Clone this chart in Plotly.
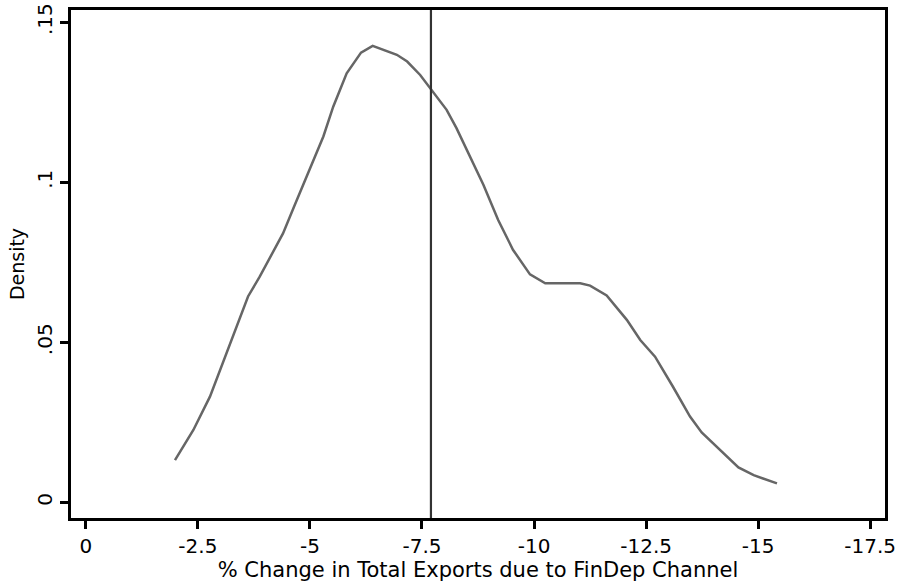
import plotly.graph_objects as go

# Kernel density curve
pct_change = [-1.99, -2.4, -2.77, -3.14, -3.62, -3.88, -4.4, -4.65, -4.93, -5.3, -5.52,
              -5.82, -6.14, -6.4, -6.94, -7.17, -7.46, -7.72, -8.05, -8.27, -8.87, -9.2,
              -9.53, -9.91, -10.25, -11.03, -11.25, -11.62, -12.07, -12.37, -12.7, -13.1,
              -13.48, -13.74, -14.08, -14.56, -14.9, -15.42]
density = [0.0132, 0.0226, 0.033, 0.0466, 0.0643, 0.0705, 0.084, 0.0925, 0.1018, 0.1143, 0.1236,
           0.134, 0.1405, 0.1426, 0.1398, 0.1377, 0.1335, 0.1288, 0.1226, 0.1169, 0.0992, 0.0882,
           0.0789, 0.0712, 0.0684, 0.0684, 0.0677, 0.0646, 0.057, 0.0507, 0.0455, 0.0361,
           0.0268, 0.0218, 0.0174, 0.0109, 0.0085, 0.0059]
mean_line = -7.7

x_tickvals = [0, -2.5, -5, -7.5, -10, -12.5, -15, -17.5]
x_ticktext = ["0", "-2.5", "-5", "-7.5", "-10", "-12.5", "-15", "-17.5"]
y_tickvals = [0, 0.05, 0.1, 0.15]
y_ticktext = ["0", ".05", ".1", ".15"]

FONT = "DejaVu Sans"

fig = go.Figure()
fig.add_trace(go.Scatter(x=pct_change, y=density, mode="lines",
                         line=dict(color="#666666", width=2.5), showlegend=False))
fig.add_trace(go.Scatter(x=[mean_line, mean_line], y=[-0.0049, 0.1538], mode="lines",
                         line=dict(color="#333333", width=2.2), showlegend=False))

fig.update_layout(
    width=905, height=582,
    margin=dict(l=71, r=20, t=10, b=64),
    paper_bgcolor="white", plot_bgcolor="white",
    font=dict(family=FONT, size=19, color="black"),
)
fig.update_xaxes(range=[0.33, -17.83], tickvals=x_tickvals, ticktext=x_ticktext,
                 showgrid=False, zeroline=False, showline=True, mirror=True,
                 linecolor="black", linewidth=3, ticks="outside", ticklen=8, tickwidth=3,
                 tickcolor="black", tickfont=dict(size=20), automargin=False,
                 title=dict(text="% Change in Total Exports due to FinDep Channel",
                            font=dict(size=21), standoff=0))
fig.update_yaxes(range=[-0.0049, 0.1538], tickvals=y_tickvals, ticktext=y_ticktext,
                 showgrid=False, zeroline=False, showline=True, mirror=True,
                 linecolor="black", linewidth=3, ticks="outside", ticklen=8, tickwidth=3,
                 tickcolor="black", tickangle=-90, tickfont=dict(size=20), automargin=False,
                 title=dict(text="Density", font=dict(size=19), standoff=4))

fig.write_html("out.html", config={"displayModeBar": False},
               post_script="document.body.style.margin='0';")
